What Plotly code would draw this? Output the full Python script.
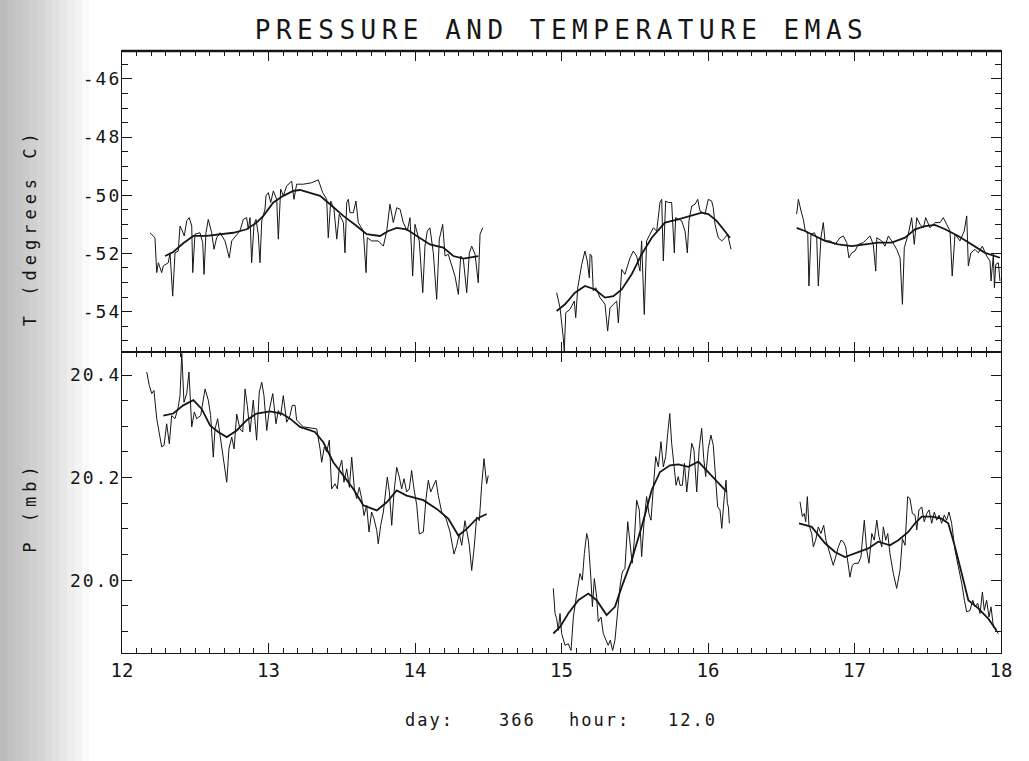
import json
import plotly.graph_objects as go

# ---------------- data: day of record (12..18) ----------------
# Temperature, raw record (three recording segments)
t_raw_day_a = [12.191, 12.225, 12.237, 12.248, 12.271, 12.282, 12.316, 12.328, 12.346, 12.362,
               12.384, 12.396, 12.412, 12.425, 12.442, 12.459, 12.476, 12.483, 12.498, 12.532,
               12.551, 12.560, 12.573, 12.589, 12.612, 12.628, 12.646, 12.669, 12.703, 12.732,
               12.749, 12.783, 12.805, 12.828, 12.851, 12.862, 12.874, 12.885, 12.901, 12.915,
               12.930, 12.942, 12.954, 12.976, 12.983, 12.999, 13.015, 13.033, 13.056, 13.067,
               13.083, 13.101, 13.124, 13.147, 13.158, 13.174, 13.192, 13.238, 13.295, 13.340,
               13.370, 13.397, 13.408, 13.425, 13.447, 13.466, 13.483, 13.511, 13.522, 13.534,
               13.545, 13.556, 13.579, 13.597, 13.613, 13.647, 13.666, 13.674, 13.704, 13.749,
               13.784, 13.807, 13.829, 13.852, 13.875, 13.898, 13.920, 13.947, 13.966, 13.984,
               14.000, 14.029, 14.053, 14.068, 14.084, 14.102, 14.125, 14.148, 14.166, 14.189,
               14.205, 14.227, 14.250, 14.273, 14.296, 14.312, 14.330, 14.353, 14.371, 14.387,
               14.410, 14.432, 14.444, 14.462]
t_raw_val_a = [-51.29, -51.46, -52.66, -52.32, -52.66, -52.43, -52.32, -51.98, -53.47, -51.98,
               -51.92, -51.06, -51.23, -51.40, -50.88, -50.77, -51.06, -52.66, -51.34, -51.29,
               -51.63, -52.72, -51.29, -50.83, -51.29, -51.86, -51.46, -51.29, -51.57, -52.15,
               -51.57, -51.34, -51.23, -50.83, -50.77, -51.17, -50.77, -52.32, -51.00, -50.83,
               -51.34, -52.32, -50.88, -50.48, -50.02, -49.91, -50.25, -49.85, -50.14, -51.51,
               -49.79, -50.02, -49.68, -49.57, -49.51, -50.14, -49.62, -49.62, -49.57, -49.47,
               -49.91, -50.14, -51.46, -50.20, -50.48, -51.51, -50.65, -50.94, -51.98, -50.25,
               -50.14, -50.60, -50.60, -50.20, -50.94, -51.23, -52.66, -51.46, -51.57, -51.57,
               -51.75, -51.23, -50.31, -50.94, -50.43, -50.48, -50.94, -51.23, -50.77, -52.78,
               -51.00, -51.57, -53.35, -51.75, -51.23, -51.12, -51.98, -53.58, -51.51, -51.00,
               -52.09, -52.03, -52.43, -52.78, -53.41, -52.09, -52.20, -53.35, -51.98, -51.75,
               -52.03, -53.01, -51.34, -51.12]

t_raw_day_b = [14.967, 14.990, 15.012, 15.019, 15.029, 15.058, 15.087, 15.097, 15.111, 15.138,
               15.160, 15.176, 15.190, 15.195, 15.206, 15.217, 15.234, 15.263, 15.297, 15.315,
               15.331, 15.354, 15.377, 15.388, 15.399, 15.411, 15.433, 15.468, 15.490, 15.513,
               15.536, 15.547, 15.565, 15.581, 15.604, 15.627, 15.650, 15.672, 15.684, 15.695,
               15.711, 15.729, 15.752, 15.770, 15.779, 15.797, 15.820, 15.843, 15.859, 15.870,
               15.889, 15.911, 15.930, 15.945, 15.980, 16.002, 16.025, 16.036, 16.048, 16.070,
               16.094, 16.116, 16.134, 16.157]
t_raw_val_b = [-53.35, -53.87, -54.90, -55.36, -54.04, -53.92, -53.64, -54.21, -53.18, -52.38,
               -51.92, -52.26, -52.84, -52.03, -52.09, -53.29, -53.18, -53.52, -53.75, -54.67,
               -53.87, -53.75, -53.64, -54.39, -53.29, -52.55, -52.72, -52.15, -51.92, -52.09,
               -52.61, -51.57, -54.10, -51.57, -51.34, -51.12, -51.23, -50.25, -50.14, -52.26,
               -50.20, -50.25, -50.25, -51.98, -50.77, -50.83, -50.88, -51.23, -51.98, -50.88,
               -50.37, -50.31, -50.14, -50.54, -50.65, -50.14, -50.20, -50.43, -51.00, -51.46,
               -51.57, -51.46, -51.34, -51.86]

t_raw_day_c = [16.605, 16.617, 16.635, 16.651, 16.662, 16.681, 16.689, 16.703, 16.726, 16.742,
               16.753, 16.771, 16.787, 16.799, 16.833, 16.867, 16.901, 16.924, 16.947, 16.962,
               16.981, 17.003, 17.026, 17.060, 17.083, 17.106, 17.128, 17.145, 17.152, 17.186,
               17.208, 17.231, 17.254, 17.288, 17.311, 17.327, 17.340, 17.367, 17.390, 17.408,
               17.425, 17.447, 17.470, 17.486, 17.515, 17.549, 17.584, 17.606, 17.629, 17.652,
               17.667, 17.686, 17.720, 17.749, 17.766, 17.777, 17.795, 17.823, 17.845, 17.873,
               17.902, 17.925, 17.932, 17.948, 17.955, 17.964, 17.982, 17.993]
t_raw_val_c = [-50.65, -50.14, -50.54, -50.83, -51.17, -51.34, -53.12, -51.34, -51.29, -51.46,
               -53.12, -51.46, -50.94, -51.57, -51.57, -51.69, -51.46, -51.40, -51.63, -52.15,
               -51.98, -51.92, -51.69, -51.63, -51.51, -51.40, -51.69, -52.61, -51.46, -51.57,
               -51.75, -51.40, -51.57, -51.86, -52.15, -53.75, -51.80, -51.34, -50.77, -51.69,
               -50.77, -51.00, -51.12, -50.77, -51.12, -50.94, -50.94, -50.77, -51.00, -51.23,
               -52.78, -51.34, -51.57, -51.23, -50.71, -52.43, -51.98, -51.86, -51.98, -51.75,
               -52.09, -52.26, -52.95, -52.03, -53.18, -52.38, -52.32, -52.95]

# Temperature, smoothed record
t_smooth_day_a = [12.294, 12.350, 12.418, 12.487, 12.578, 12.669, 12.760, 12.851, 12.919, 12.965,
                  13.033, 13.101, 13.169, 13.215, 13.283, 13.352, 13.420, 13.511, 13.602, 13.670,
                  13.761, 13.818, 13.875, 13.943, 14.012, 14.102, 14.193, 14.262, 14.330, 14.432]
t_smooth_val_a = [-52.09, -51.95, -51.65, -51.40, -51.40, -51.34, -51.29, -51.17, -50.94, -50.71,
                  -50.25, -50.02, -49.85, -49.82, -49.91, -50.02, -50.31, -50.71, -51.06, -51.34,
                  -51.40, -51.23, -51.12, -51.17, -51.40, -51.69, -51.80, -52.09, -52.18, -52.09]
t_smooth_day_b = [14.967, 15.024, 15.092, 15.160, 15.229, 15.297, 15.354, 15.411, 15.479, 15.547,
                  15.616, 15.706, 15.797, 15.889, 15.957, 16.002, 16.059, 16.105, 16.150]
t_smooth_val_b = [-53.98, -53.75, -53.35, -53.12, -53.24, -53.52, -53.47, -53.24, -52.72, -52.03,
                  -51.46, -50.94, -50.83, -50.71, -50.60, -50.65, -50.88, -51.17, -51.46]
t_smooth_day_c = [16.605, 16.662, 16.730, 16.799, 16.890, 16.981, 17.072, 17.162, 17.254, 17.345,
                  17.413, 17.481, 17.549, 17.618, 17.708, 17.799, 17.891, 17.993]
t_smooth_val_c = [-51.12, -51.23, -51.40, -51.57, -51.69, -51.75, -51.69, -51.63, -51.63, -51.46,
                  -51.17, -51.06, -51.02, -51.17, -51.40, -51.69, -51.98, -52.15]

# Pressure, raw record
p_raw_day_a = [12.169, 12.186, 12.203, 12.218, 12.237, 12.255, 12.271, 12.287, 12.305, 12.323,
               12.339, 12.362, 12.384, 12.396, 12.408, 12.423, 12.442, 12.457, 12.476, 12.494,
               12.510, 12.537, 12.567, 12.589, 12.605, 12.623, 12.635, 12.653, 12.669, 12.692,
               12.715, 12.730, 12.749, 12.765, 12.783, 12.805, 12.824, 12.840, 12.855, 12.874,
               12.896, 12.919, 12.937, 12.954, 12.969, 12.988, 13.005, 13.029, 13.051, 13.067,
               13.083, 13.101, 13.124, 13.147, 13.162, 13.181, 13.192, 13.238, 13.329, 13.352,
               13.363, 13.381, 13.397, 13.415, 13.431, 13.454, 13.470, 13.483, 13.500, 13.515,
               13.534, 13.552, 13.568, 13.586, 13.602, 13.620, 13.636, 13.652, 13.670, 13.686,
               13.704, 13.720, 13.739, 13.749, 13.766, 13.784, 13.795, 13.811, 13.825, 13.841,
               13.857, 13.875, 13.893, 13.909, 13.925, 13.943, 13.961, 13.977, 13.993, 14.012,
               14.029, 14.057, 14.075, 14.091, 14.107, 14.125, 14.143, 14.159, 14.182, 14.212,
               14.239, 14.266, 14.285, 14.302, 14.319, 14.341, 14.357, 14.371, 14.387, 14.403,
               14.421, 14.439, 14.455, 14.471, 14.489, 14.500]
p_raw_val_a = [20.406, 20.380, 20.364, 20.370, 20.315, 20.286, 20.260, 20.263, 20.305, 20.266,
               20.321, 20.315, 20.338, 20.360, 20.442, 20.347, 20.364, 20.406, 20.299, 20.328,
               20.315, 20.321, 20.373, 20.351, 20.321, 20.240, 20.295, 20.315, 20.282, 20.237,
               20.191, 20.256, 20.279, 20.256, 20.324, 20.295, 20.289, 20.373, 20.341, 20.289,
               20.351, 20.273, 20.367, 20.386, 20.360, 20.292, 20.331, 20.364, 20.305, 20.331,
               20.321, 20.360, 20.308, 20.321, 20.341, 20.341, 20.312, 20.299, 20.295, 20.256,
               20.230, 20.260, 20.250, 20.273, 20.178, 20.188, 20.178, 20.217, 20.234, 20.191,
               20.217, 20.181, 20.240, 20.178, 20.159, 20.181, 20.159, 20.126, 20.146, 20.094,
               20.133, 20.120, 20.097, 20.071, 20.107, 20.133, 20.165, 20.201, 20.172, 20.107,
               20.172, 20.220, 20.201, 20.178, 20.198, 20.172, 20.178, 20.214, 20.178, 20.146,
               20.090, 20.094, 20.159, 20.195, 20.172, 20.185, 20.195, 20.165, 20.133, 20.120,
               20.094, 20.051, 20.068, 20.090, 20.068, 20.116, 20.094, 20.068, 20.019, 20.061,
               20.123, 20.116, 20.185, 20.237, 20.188, 20.204]

p_raw_day_b = [14.944, 14.956, 14.967, 14.978, 14.990, 15.001, 15.024, 15.046, 15.065, 15.081,
               15.104, 15.126, 15.142, 15.156, 15.172, 15.183, 15.200, 15.211, 15.224, 15.240,
               15.251, 15.270, 15.285, 15.302, 15.319, 15.333, 15.349, 15.365, 15.384, 15.399,
               15.415, 15.433, 15.452, 15.468, 15.483, 15.497, 15.513, 15.531, 15.547, 15.563,
               15.581, 15.597, 15.611, 15.627, 15.643, 15.661, 15.679, 15.695, 15.711, 15.725,
               15.739, 15.752, 15.766, 15.782, 15.797, 15.809, 15.825, 15.839, 15.855, 15.870,
               15.889, 15.904, 15.923, 15.939, 15.957, 15.971, 15.984, 16.002, 16.020, 16.036,
               16.053, 16.066, 16.082, 16.094, 16.109, 16.123, 16.132, 16.139, 16.146]
p_raw_val_b = [19.984, 19.935, 19.925, 19.902, 19.935, 19.896, 19.873, 19.876, 19.863, 19.928,
               19.974, 20.013, 20.000, 20.052, 20.091, 20.078, 20.006, 19.948, 20.003, 19.967,
               19.919, 19.928, 19.896, 19.886, 19.873, 19.883, 19.863, 19.883, 19.948, 19.987,
               20.016, 20.023, 20.114, 20.078, 20.033, 20.078, 20.156, 20.137, 20.046, 20.111,
               20.163, 20.130, 20.117, 20.182, 20.241, 20.221, 20.270, 20.221, 20.241, 20.286,
               20.325, 20.267, 20.221, 20.185, 20.202, 20.185, 20.185, 20.228, 20.172, 20.221,
               20.267, 20.254, 20.172, 20.254, 20.296, 20.237, 20.202, 20.257, 20.283, 20.263,
               20.202, 20.143, 20.137, 20.101, 20.156, 20.195, 20.150, 20.143, 20.111]

p_raw_day_c = [16.628, 16.644, 16.657, 16.667, 16.678, 16.689, 16.708, 16.719, 16.735, 16.753,
               16.771, 16.790, 16.805, 16.821, 16.839, 16.855, 16.871, 16.890, 16.908, 16.924,
               16.940, 16.954, 16.969, 16.985, 17.003, 17.026, 17.044, 17.053, 17.067, 17.083,
               17.099, 17.118, 17.135, 17.152, 17.167, 17.186, 17.197, 17.213, 17.227, 17.242,
               17.265, 17.288, 17.311, 17.327, 17.345, 17.363, 17.379, 17.395, 17.413, 17.425,
               17.440, 17.459, 17.476, 17.493, 17.509, 17.527, 17.545, 17.561, 17.577, 17.595,
               17.613, 17.629, 17.645, 17.663, 17.686, 17.709, 17.732, 17.750, 17.766, 17.788,
               17.807, 17.823, 17.841, 17.857, 17.873, 17.886, 17.902, 17.918, 17.932, 17.948,
               17.964, 17.982]
p_raw_val_c = [20.153, 20.124, 20.130, 20.114, 20.163, 20.107, 20.091, 20.065, 20.078, 20.104,
               20.091, 20.107, 20.078, 20.062, 20.045, 20.029, 20.045, 20.065, 20.078, 20.075,
               20.065, 20.039, 20.006, 20.029, 20.033, 20.033, 20.045, 20.075, 20.117, 20.059,
               20.033, 20.091, 20.078, 20.117, 20.085, 20.065, 20.104, 20.078, 20.091, 20.052,
               20.013, 19.984, 20.020, 20.081, 20.068, 20.163, 20.159, 20.130, 20.127, 20.098,
               20.137, 20.143, 20.114, 20.130, 20.137, 20.111, 20.133, 20.117, 20.127, 20.111,
               20.127, 20.117, 20.133, 20.111, 20.059, 20.026, 19.994, 19.961, 19.938, 19.941,
               19.961, 19.948, 19.955, 19.935, 19.977, 19.941, 19.961, 19.928, 19.948, 19.909,
               19.902, 19.896]

# Pressure, smoothed record
p_smooth_day_a = [12.282, 12.350, 12.418, 12.487, 12.544, 12.601, 12.657, 12.715, 12.783, 12.851,
                  12.919, 13.010, 13.090, 13.147, 13.215, 13.317, 13.374, 13.442, 13.511, 13.579,
                  13.647, 13.739, 13.807, 13.875, 13.943, 14.057, 14.148, 14.227, 14.296, 14.353,
                  14.421, 14.489]
p_smooth_val_a = [20.321, 20.325, 20.341, 20.351, 20.334, 20.302, 20.289, 20.279, 20.292, 20.312,
                  20.325, 20.329, 20.325, 20.315, 20.299, 20.289, 20.269, 20.230, 20.204, 20.178,
                  20.146, 20.136, 20.152, 20.175, 20.165, 20.156, 20.139, 20.120, 20.087, 20.100,
                  20.120, 20.129]
p_smooth_day_b = [14.944, 14.990, 15.046, 15.115, 15.183, 15.240, 15.308, 15.365, 15.411, 15.479,
                  15.547, 15.616, 15.672, 15.741, 15.797, 15.865, 15.934, 16.002, 16.070, 16.128]
p_smooth_val_b = [19.896, 19.909, 19.935, 19.961, 19.974, 19.961, 19.932, 19.948, 19.987, 20.039,
                  20.104, 20.176, 20.211, 20.224, 20.226, 20.221, 20.231, 20.211, 20.189, 20.172]
p_smooth_day_c = [16.621, 16.708, 16.799, 16.867, 16.935, 17.003, 17.094, 17.162, 17.242, 17.299,
                  17.367, 17.413, 17.459, 17.527, 17.595, 17.640, 17.686, 17.732, 17.777, 17.845,
                  17.913, 17.970]
p_smooth_val_c = [20.111, 20.104, 20.072, 20.055, 20.045, 20.052, 20.062, 20.075, 20.068, 20.078,
                  20.094, 20.111, 20.124, 20.124, 20.120, 20.111, 20.065, 20.013, 19.961, 19.945,
                  19.925, 19.902]

# axis ticks and labels
day_ticks = [12, 13, 14, 15, 16, 17, 18]
t_ticks = [-54, -52, -50, -48, -46]
t_tick_text = ["-54", "-52", "-50", "-48", "-46"]
p_ticks = [20.0, 20.2, 20.4]
p_tick_text = ["20.0", "20.2", "20.4"]

TITLE = "PRESSURE AND TEMPERATURE EMAS"
T_LABEL = "T (degrees C)"
P_LABEL = "P (mb)"
FOOTER = ["day:", "366", "hour:", "12.0"]

# ---------------- figure ----------------
FONT = "DejaVu Sans Mono"
INK = "#161616"

fig = go.Figure()

segments = [
    ("x", "y", t_raw_day_a, t_raw_val_a, 1.0), ("x", "y", t_raw_day_b, t_raw_val_b, 1.0),
    ("x", "y", t_raw_day_c, t_raw_val_c, 1.0),
    ("x", "y", t_smooth_day_a, t_smooth_val_a, 1.8), ("x", "y", t_smooth_day_b, t_smooth_val_b, 1.8),
    ("x", "y", t_smooth_day_c, t_smooth_val_c, 1.8),
    ("x2", "y2", p_raw_day_a, p_raw_val_a, 1.0), ("x2", "y2", p_raw_day_b, p_raw_val_b, 1.0),
    ("x2", "y2", p_raw_day_c, p_raw_val_c, 1.0),
    ("x2", "y2", p_smooth_day_a, p_smooth_val_a, 1.8), ("x2", "y2", p_smooth_day_b, p_smooth_val_b, 1.8),
    ("x2", "y2", p_smooth_day_c, p_smooth_val_c, 1.8),
]
for xa, ya, xs, ys, w in segments:
    fig.add_trace(go.Scatter(x=xs, y=ys, xaxis=xa, yaxis=ya, mode="lines",
                             line=dict(color=INK, width=w), showlegend=False,
                             hoverinfo="skip"))

common_x = dict(range=[12, 18], tickvals=day_ticks, ticks="inside", ticklen=10,
                tickwidth=1.2, tickcolor=INK, mirror="ticks", showline=True,
                linewidth=1.3, linecolor=INK, showgrid=False, zeroline=False,
                minor=dict(dtick=0.1, tick0=12, ticks="inside", ticklen=5,
                           tickwidth=1, tickcolor=INK, showgrid=False))
common_y = dict(ticks="inside", ticklen=10, tickwidth=1.2, tickcolor=INK,
                mirror="ticks", showline=True, linewidth=1.3, linecolor=INK,
                showgrid=False, zeroline=False, ticklabelstandoff=-4,
                tickfont=dict(family=FONT, size=18, color=INK))

fig.update_layout(
    width=1029, height=761,
    margin=dict(l=122, r=28, t=51, b=108),
    paper_bgcolor="white", plot_bgcolor="white",
    showlegend=False,
    title=dict(text=TITLE, x=0.5, xref="paper", y=1 - 30 / 761, yanchor="middle",
               xanchor="center", font=dict(family=FONT, size=26, color=INK)),
    xaxis=dict(common_x, anchor="y", showticklabels=False),
    yaxis=dict(common_y, domain=[0.5, 1.0], range=[-55.39, -45.04],
               tickvals=t_ticks, ticktext=t_tick_text,
               minor=dict(dtick=0.5, tick0=-46, ticks="inside", ticklen=6,
                          tickwidth=1, tickcolor=INK, showgrid=False)),
    xaxis2=dict(common_x, anchor="y2", showticklabels=True,
                tickfont=dict(family=FONT, size=19, color=INK)),
    yaxis2=dict(common_y, domain=[0.0, 0.5], range=[19.858, 20.445],
                tickvals=p_ticks, ticktext=p_tick_text,
                minor=dict(dtick=0.05, tick0=20.0, ticks="inside", ticklen=6,
                           tickwidth=1, tickcolor=INK, showgrid=False)),
)

# heavier rule along the top of the frame
fig.add_shape(type="line", xref="paper", yref="paper", x0=0, x1=1, y0=1, y1=1,
              line=dict(color=INK, width=2.6))

# axis titles, rotated
fig.add_annotation(text=T_LABEL, xref="paper", yref="paper", x=-0.1047, y=0.708,
                   xanchor="center", yanchor="middle", textangle=-90, showarrow=False,
                   font=dict(family=FONT, size=17, color=INK))
fig.add_annotation(text=P_LABEL, xref="paper", yref="paper", x=-0.1047, y=0.243,
                   xanchor="center", yanchor="middle", textangle=-90, showarrow=False,
                   font=dict(family=FONT, size=17, color=INK))

# footer line
for txt, xp in zip(FOOTER, [0.3493, 0.4505, 0.5427, 0.6496]):
    fig.add_annotation(text=txt, xref="paper", yref="paper", x=xp, y=-0.1313,
                       showarrow=False, font=dict(family=FONT, size=17, color=INK))

# grey stippled edge along the left side of the sheet
for k in range(12):
    fig.add_shape(type="rect", xref="paper", yref="paper", x0=-0.139,
                  x1=-0.139 + 0.0085 * (k + 1), y0=-0.2, y1=1.1,
                  fillcolor="black", opacity=0.022, line_width=0, layer="below")

wide_labels = json.dumps([T_LABEL, P_LABEL])
post = """
var gd = document.getElementById('{plot_id}');
var wide = %s;
function sp(sel, v) { gd.querySelectorAll(sel).forEach(function(e){ e.style.letterSpacing = v; }); }
sp('.gtitle', '5.5px');
sp('.ytick text', '2px');
sp('.y2tick text', '2px');
gd.querySelectorAll('.annotation-text').forEach(function(e){
  var t = e.textContent.replace(/\\u00a0/g, ' ');
  e.style.letterSpacing = (wide.indexOf(t) >= 0) ? '5px' : '2px';
});
""" % wide_labels

fig.write_html("out.html", post_script=post)
